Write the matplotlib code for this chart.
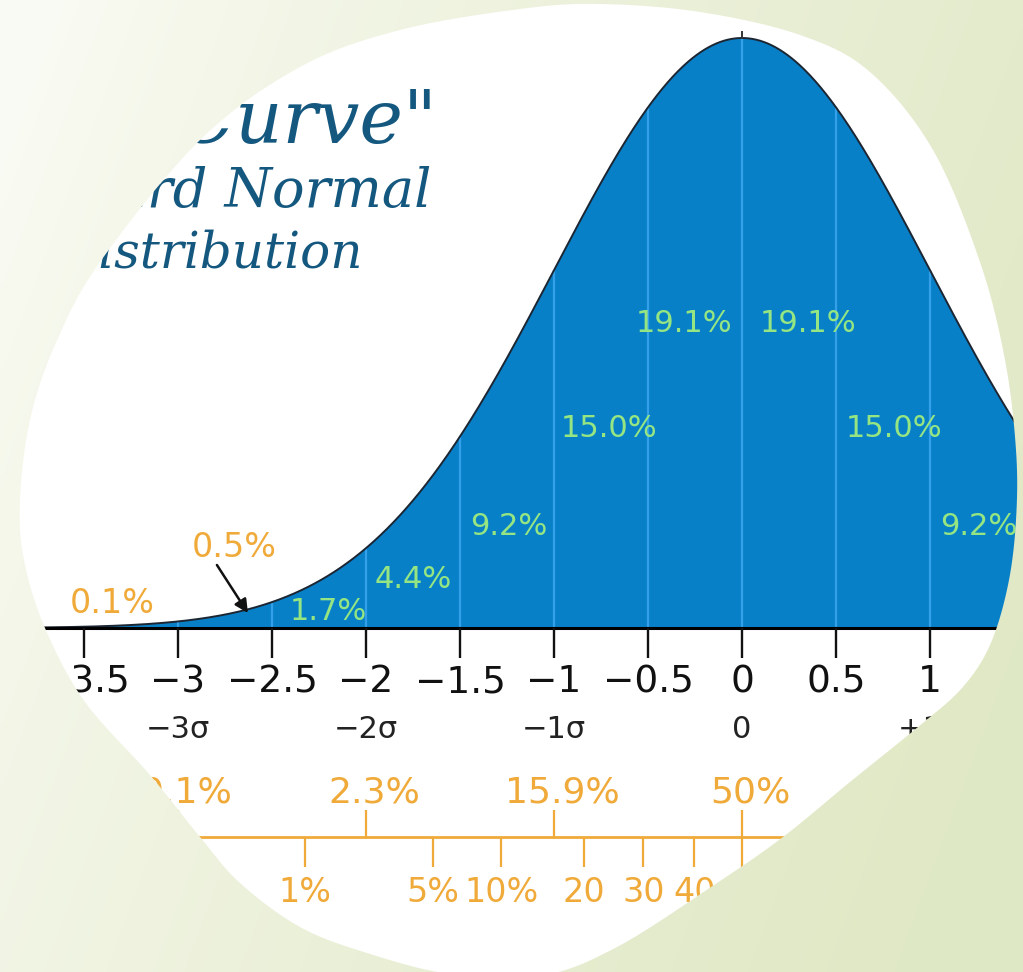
import math
import numpy as np
import matplotlib
matplotlib.use("Agg")
import matplotlib.pyplot as plt
from matplotlib.path import Path
from matplotlib.patches import PathPatch

# ---- data ----
MU, SIGMA = 0.0, 1.0

z_ticks = [-3.5, -3, -2.5, -2, -1.5, -1, -0.5, 0, 0.5, 1, 1.5]
tick_labels = ["−3.5", "−3", "−2.5", "−2", "−1.5", "−1", "−0.5", "0", "0.5", "1"]

sigma_z = [-3, -2, -1, 0, 1]
sigma_labels = ["−3σ", "−2σ", "−1σ", "0", "+1σ"]

band_labels = ["0.1%", "0.5%", "1.7%", "4.4%", "9.2%", "15.0%", "19.1%", "19.1%", "15.0%", "9.2%"]
band_x = [-3.35, -2.70, -2.20, -1.75, -1.24, -0.71, -0.31, 0.35, 0.81, 1.26]
band_y = [0.0101, 0.0480, 0.0054, 0.0270, 0.0629, 0.1292, 0.2002, 0.2002, 0.1292, 0.0629]
band_orange = [True, True, False, False, False, False, False, False, False, False]

cum_upper_z = [-3, -2, -1, 0]
cum_upper_labels = ["0.1%", "2.3%", "15.9%", "50%"]
cum_lower_pct = [1, 5, 10, 20, 30, 40]
cum_lower_labels = ["1%", "5%", "10%", "20", "30", "40"]

title_lines = ["\u201cBell Curve\"", "Standard Normal", "Distribution"]

# ---- colours ----
BLUE = "#0880c8"
LIGHT_BLUE = "#35a0ea"
GREEN = "#95e682"
ORANGE = "#f0aa3a"
TITLE_C = "#15587f"


def pdf(z):
    return np.exp(-0.5 * ((z - MU) / SIGMA) ** 2) / (SIGMA * math.sqrt(2 * math.pi))


def ppf(p):
    lo, hi = -8.0, 8.0
    for _ in range(80):
        mid = 0.5 * (lo + hi)
        if 0.5 * (1 + math.erf(mid / math.sqrt(2))) < p:
            lo = mid
        else:
            hi = mid
    return 0.5 * (lo + hi)


W, H = 1023, 972
fig = plt.figure(figsize=(W / 100, H / 100), dpi=100)
fig.patch.set_facecolor("white")

# main chart axes (z units / density units)
ax = fig.add_axes([0, 0, 1, 1])
ax.set_xlim(-742 / 188, (W - 742) / 188)
ax.set_ylim(-(H - 628) / 1478.9, 628 / 1478.9)
ax.axis("off")

z = np.linspace(-4.2, 4.2, 1200)
y = pdf(z)
ax.fill_between(z, 0, y, color=BLUE, lw=0, zorder=1)
vz = np.arange(-3, 1.51, 0.5)
ax.vlines(vz, 0, pdf(vz), color=LIGHT_BLUE, lw=1.6, zorder=2)
ax.plot(z, y, color="#1c2633", lw=1.4, zorder=3)
ax.plot([0, 0], [pdf(0), pdf(0) + 0.004], color="#333333", lw=1.4, zorder=3)

# x axis
ax.plot([-4.2, 1.6], [0, 0], color="black", lw=2.2, zorder=4, solid_capstyle="butt")
ax.vlines(z_ticks, -0.0203, 0, color="#111111", lw=1.7, zorder=4)
for zt, lab in zip(z_ticks, tick_labels):
    ax.text(zt, -0.0433, lab, ha="center", va="baseline", fontsize=27, color="#111111")
for zs, lab in zip(sigma_z, sigma_labels):
    ax.text(zs, -0.0744, lab, ha="center", va="baseline", fontsize=22, color="#222222")

# band percentages
for bx, by, lab, orng in zip(band_x, band_y, band_labels, band_orange):
    ax.text(bx, by, lab, ha="center", va="baseline", fontsize=24 if orng else 22,
            color=ORANGE if orng else GREEN, zorder=5)
ax.annotate("", xy=(-2.628, 0.0101), xytext=(-2.793, 0.0426),
            arrowprops=dict(arrowstyle="-|>", color="#111111", lw=1.8,
                            mutation_scale=20, shrinkA=0, shrinkB=0), zorder=6)

# cumulative percentage scale
line_y, up_y, low_y = -0.1413, -0.1231, -0.1616
ax.plot([-3.6, 1.6], [line_y, line_y], color=ORANGE, lw=2.0, solid_capstyle="butt")
ax.vlines(cum_upper_z, up_y, line_y, color=ORANGE, lw=1.6)
for cz, lab in zip(cum_upper_z, cum_upper_labels):
    ax.text(cz + 0.045, -0.1183, lab, ha="center", va="baseline", fontsize=26, color=ORANGE)
low_z = [ppf(p / 100) for p in cum_lower_pct]
ax.vlines(low_z, line_y, low_y, color=ORANGE, lw=1.6)
ax.vlines([0], line_y, low_y, color=ORANGE, lw=1.6)
for lz, lab in zip(low_z, cum_lower_labels):
    ax.text(lz, -0.1853, lab, ha="center", va="baseline", fontsize=24, color=ORANGE)

# ---- overlay: title, and background outside the blob ----
ov = fig.add_axes([0, 0, 1, 1])
ov.set_facecolor("none")
ov.axis("off")

ov.text(437, 143, title_lines[0], ha="right", va="baseline", fontsize=53,
        family="DejaVu Serif", style="italic", color=TITLE_C, zorder=1)
ov.text(431, 207, title_lines[1], ha="right", va="baseline", fontsize=39,
        family="DejaVu Serif", style="italic", color=TITLE_C, zorder=1)
ov.text(363, 267, title_lines[2], ha="right", va="baseline", fontsize=36,
        family="DejaVu Serif", style="italic", color=TITLE_C, zorder=1)

# blob outline (pixel coords, y down)
blob = np.array([
    (600, 4), (700, 12), (800, 35), (870, 72), (933, 150), (980, 262), (1005, 360),
    (1016, 450), (1016, 520), (1008, 585), (990, 645), (962, 688), (918, 727),
    (850, 782), (783, 837), (717, 883), (617, 947), (540, 976), (450, 974),
    (367, 953), (300, 927), (240, 883), (200, 837), (150, 775),
    (85, 702), (45, 628), (24, 560), (20, 500), (30, 420), (55, 345),
    (100, 262), (200, 140), (300, 67), (400, 30), (520, 9),
], dtype=float)

# closed Catmull-Rom smoothing
n = len(blob)
smooth = []
for i in range(n):
    p0, p1, p2, p3 = blob[i - 1], blob[i], blob[(i + 1) % n], blob[(i + 2) % n]
    for t in np.linspace(0, 1, 16, endpoint=False):
        t2, t3 = t * t, t * t * t
        smooth.append(0.5 * ((2 * p1) + (-p0 + p2) * t + (2 * p0 - 5 * p1 + 4 * p2 - p3) * t2
                             + (-p0 + 3 * p1 - 3 * p2 + p3) * t3))
smooth = np.array(smooth)

outer = np.array([(-20, -20), (W + 20, -20), (W + 20, H + 20), (-20, H + 20)], dtype=float)


def area(p):
    x, yy = p[:, 0], p[:, 1]
    return 0.5 * np.sum(x * np.roll(yy, -1) - np.roll(x, -1) * yy)


if np.sign(area(outer)) == np.sign(area(smooth)):
    smooth = smooth[::-1]

verts = np.vstack([outer, outer[:1], smooth, smooth[:1]])
codes = ([Path.MOVETO] + [Path.LINETO] * (len(outer) - 1) + [Path.CLOSEPOLY]
         + [Path.MOVETO] + [Path.LINETO] * (len(smooth) - 1) + [Path.CLOSEPOLY])
hole = PathPatch(Path(verts, codes), transform=ov.transData, facecolor="none", edgecolor="none")

gx, gy = np.meshgrid(np.linspace(0, 1, 256), np.linspace(0, 1, 256))
t = np.clip(0.85 * gx + 0.30 * gy - 0.05, 0, 1) ** 0.8
c0 = np.array([0.980, 0.984, 0.955])
c1 = np.array([0.878, 0.910, 0.772])
grad = c0[None, None, :] * (1 - t[..., None]) + c1[None, None, :] * t[..., None]
im = ov.imshow(grad, extent=(0, W, H, 0), origin="upper", aspect="auto",
               interpolation="bilinear", zorder=5)
im.set_clip_path(hole)
ov.set_xlim(0, W)
ov.set_ylim(H, 0)

fig.savefig("out.png", dpi=100)
